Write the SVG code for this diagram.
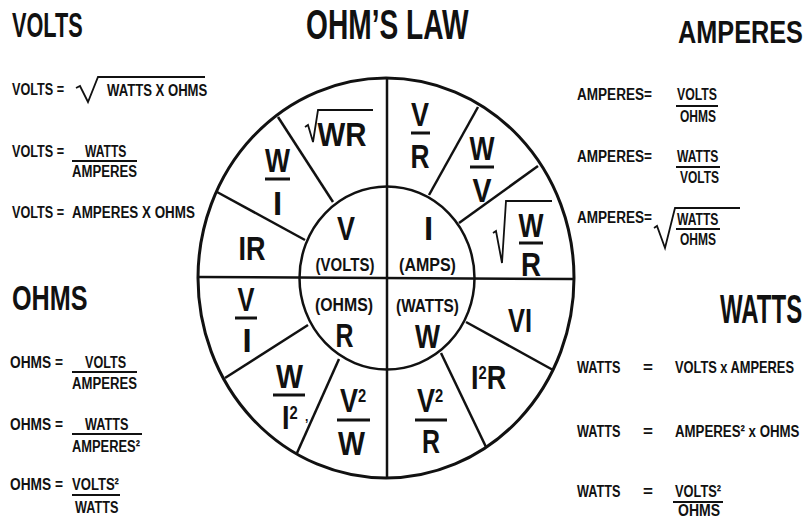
<svg xmlns="http://www.w3.org/2000/svg" width="808" height="520" viewBox="0 0 808 520">
<style>
text{font-family:"Liberation Sans",Arial,"DejaVu Sans Condensed",sans-serif;font-weight:bold;fill:#111}
.f{font-size:17px}
.w{font-size:33px;text-anchor:middle}
.s{font-size:17px}
.p{font-size:18px;text-anchor:middle}
.ln{stroke:#111;stroke-width:2.5;fill:none}
.bar{stroke:#111;stroke-width:2;fill:none}
.wb{stroke:#111;stroke-width:3;fill:none}
.rt{stroke:#111;stroke-width:1.8;fill:none;stroke-linejoin:miter}
</style>
<rect width="808" height="520" fill="#fff"/>
<g id="title"><text transform="translate(306,39) scale(0.67,1)" font-size="42">OHM’S LAW</text></g>

<g id="volts-panel">
<text transform="translate(12,37) scale(0.62,1)" font-size="35">VOLTS</text>
<text class="f" transform="translate(12,95) scale(0.743,1)">VOLTS =</text>
<path class="rt" d="M76,88 L80,86 L88,102 L98,77 L205,77"/>
<text class="f" transform="translate(107,96) scale(0.772,1)">WATTS X OHMS</text>
<text class="f" transform="translate(12,157) scale(0.743,1)">VOLTS =</text>
<text class="f" transform="translate(85,157) scale(0.712,1)">WATTS</text>
<line class="bar" x1="72" y1="161" x2="137" y2="161"/>
<text class="f" transform="translate(72,177) scale(0.773,1)">AMPERES</text>
<text class="f" transform="translate(12,218) scale(0.743,1)">VOLTS =</text>
<text class="f" transform="translate(72,218) scale(0.789,1)">AMPERES X OHMS</text>
</g>

<g id="ohms-panel">
<text transform="translate(12,310) scale(0.72,1)" font-size="35">OHMS</text>
<text class="f" transform="translate(10,368) scale(0.807,1)">OHMS =</text>
<text class="f" transform="translate(85,368) scale(0.741,1)">VOLTS</text>
<line class="bar" x1="72" y1="372" x2="137" y2="372"/>
<text class="f" transform="translate(72,389) scale(0.773,1)">AMPERES</text>
<text class="f" transform="translate(10,430) scale(0.807,1)">OHMS =</text>
<text class="f" transform="translate(85,430) scale(0.745,1)">WATTS</text>
<line class="bar" x1="72" y1="434" x2="142" y2="434"/>
<text class="f" transform="translate(72,452) scale(0.758,1)">AMPERES²</text>
<text class="f" transform="translate(10,490) scale(0.807,1)">OHMS =</text>
<text class="f" transform="translate(72,490) scale(0.77,1)">VOLTS²</text>
<line class="bar" x1="72" y1="495" x2="120" y2="495"/>
<text class="f" transform="translate(75,513) scale(0.745,1)">WATTS</text>
</g>

<g id="amperes-panel">
<text transform="translate(678,43) scale(0.79,1)" font-size="32">AMPERES</text>
<text class="f" transform="translate(577,100) scale(0.798,1)">AMPERES=</text>
<text class="f" transform="translate(677,100) scale(0.723,1)">VOLTS</text>
<line class="bar" x1="676" y1="106" x2="718" y2="106"/>
<text class="f" transform="translate(680,122) scale(0.706,1)">OHMS</text>
<text class="f" transform="translate(577,162) scale(0.798,1)">AMPERES=</text>
<text class="f" transform="translate(677,162) scale(0.712,1)">WATTS</text>
<line class="bar" x1="676" y1="167" x2="720" y2="167"/>
<text class="f" transform="translate(680,183) scale(0.706,1)">VOLTS</text>
<text class="f" transform="translate(577,223) scale(0.798,1)">AMPERES=</text>
<path class="rt" d="M654,228 L657,226 L665,248 L675,208 L740,208"/>
<text class="f" transform="translate(677,225) scale(0.712,1)">WATTS</text>
<line class="bar" x1="676" y1="229" x2="720" y2="229"/>
<text class="f" transform="translate(680,245) scale(0.706,1)">OHMS</text>
</g>

<g id="watts-panel">
<text transform="translate(720,323) scale(0.585,1)" font-size="41">WATTS</text>
<text class="f" transform="translate(577,373) scale(0.745,1)">WATTS</text>
<text class="f" x="643" y="373">=</text>
<text class="f" transform="translate(675,373) scale(0.755,1)">VOLTS x AMPERES</text>
<text class="f" transform="translate(577,437) scale(0.745,1)">WATTS</text>
<text class="f" x="643" y="437">=</text>
<text class="f" transform="translate(675,437) scale(0.78,1)">AMPERES² x OHMS</text>
<text class="f" transform="translate(577,497) scale(0.745,1)">WATTS</text>
<text class="f" x="643" y="497">=</text>
<text class="f" transform="translate(675,497) scale(0.754,1)">VOLTS²</text>
<line class="bar" x1="673" y1="502" x2="723" y2="502"/>
<text class="f" transform="translate(678,516) scale(0.824,1)">OHMS</text>
</g>

<g id="wheel-outline">
<ellipse class="wb" cx="386" cy="278" rx="188" ry="200"/>
<ellipse class="ln" cx="387" cy="278" rx="87.5" ry="91.5"/>
</g>

<g id="connectors">
<line class="ln" x1="387" y1="78" x2="387" y2="478"/>
<line class="ln" x1="198" y1="277" x2="574" y2="279"/>
<line class="ln" x1="333" y1="202" x2="278" y2="117"/>
<line class="ln" x1="305" y1="240" x2="217" y2="192"/>
<line class="ln" x1="429" y1="195" x2="478" y2="107"/>
<line class="ln" x1="459" y1="223" x2="538" y2="166"/>
<line class="ln" x1="308" y1="325" x2="225" y2="378"/>
<line class="ln" x1="339" y1="359" x2="297" y2="453"/>
<line class="ln" x1="466" y1="322" x2="553" y2="370"/>
<line class="ln" x1="441" y1="353" x2="486" y2="447"/>
</g>

<g id="core-volts"><text class="w" x="346" y="240" textLength="18" lengthAdjust="spacingAndGlyphs">V</text><text class="p" transform="translate(345,271) scale(0.833,1)">(VOLTS)</text></g>
<g id="core-amps"><text class="w" x="428.5" y="240">I</text><text class="p" transform="translate(427.5,271) scale(0.89,1)">(AMPS)</text></g>
<g id="core-ohms"><text class="p" transform="translate(344,311) scale(0.88,1)">(OHMS)</text><text class="w" x="344.5" y="347" textLength="18" lengthAdjust="spacingAndGlyphs">R</text></g>
<g id="core-watts"><text class="p" transform="translate(427.5,312) scale(0.855,1)">(WATTS)</text><text class="w" x="427.5" y="348" textLength="25" lengthAdjust="spacingAndGlyphs">W</text></g>

<g id="seg-sqrt-wr"><path class="rt" d="M305,127 L308,125 L313,142 L318,110 L373,110"/><text class="w" x="342" y="146" textLength="49" lengthAdjust="spacingAndGlyphs">WR</text></g>
<g id="seg-w-over-i"><text class="w" x="277.5" y="172" textLength="25" lengthAdjust="spacingAndGlyphs">W</text><line class="wb" x1="265" y1="179" x2="290" y2="179"/><text class="w" x="277.5" y="215">I</text></g>
<g id="seg-ir"><text class="w" x="252" y="260" textLength="27" lengthAdjust="spacingAndGlyphs">IR</text></g>
<g id="seg-v-over-r"><text class="w" x="420" y="126" textLength="18" lengthAdjust="spacingAndGlyphs">V</text><line class="wb" x1="411" y1="133" x2="430" y2="133"/><text class="w" x="420" y="168" textLength="19" lengthAdjust="spacingAndGlyphs">R</text></g>
<g id="seg-w-over-v"><text class="w" x="482" y="160" textLength="25" lengthAdjust="spacingAndGlyphs">W</text><line class="wb" x1="470" y1="167" x2="494" y2="167"/><text class="w" x="482" y="202" textLength="19" lengthAdjust="spacingAndGlyphs">V</text></g>
<g id="seg-sqrt-w-over-r"><path class="rt" d="M493,233 L496,231 L502,263 L506,201 L552,201"/><text class="w" x="531" y="237" textLength="25" lengthAdjust="spacingAndGlyphs">W</text><line class="wb" x1="519" y1="243" x2="543" y2="243"/><text class="w" x="531" y="276" textLength="20" lengthAdjust="spacingAndGlyphs">R</text></g>
<g id="seg-v-over-i"><text class="w" x="246" y="311" textLength="17" lengthAdjust="spacingAndGlyphs">V</text><line class="wb" x1="235" y1="318" x2="257" y2="318"/><text class="w" x="247" y="352">I</text></g>
<g id="seg-w-over-i2"><text class="w" x="289.5" y="388" textLength="27" lengthAdjust="spacingAndGlyphs">W</text><line class="wb" x1="273" y1="395" x2="305" y2="395"/><text transform="translate(282,429) scale(0.82,1)" font-size="33">I<tspan font-size="18" dy="-10">2</tspan></text><text x="305" y="421" font-size="12">,</text></g>
<g id="seg-v2-over-w"><text transform="translate(340,412) scale(0.82,1)" font-size="33">V<tspan font-size="18" dy="-10">2</tspan></text><line class="wb" x1="337" y1="420" x2="370" y2="420"/><text class="w" x="351.5" y="455" textLength="27" lengthAdjust="spacingAndGlyphs">W</text></g>
<g id="seg-vi"><text class="w" x="520" y="332" textLength="24" lengthAdjust="spacingAndGlyphs">VI</text></g>
<g id="seg-i2r"><text transform="translate(471,389) scale(0.82,1)" font-size="33">I<tspan font-size="18" dy="-10">2</tspan><tspan dy="10">R</tspan></text></g>
<g id="seg-v2-over-r"><text transform="translate(417,412) scale(0.82,1)" font-size="33">V<tspan font-size="18" dy="-10">2</tspan></text><line class="wb" x1="415" y1="420" x2="447" y2="420"/><text class="w" x="431" y="453" textLength="18" lengthAdjust="spacingAndGlyphs">R</text></g>
</svg>
